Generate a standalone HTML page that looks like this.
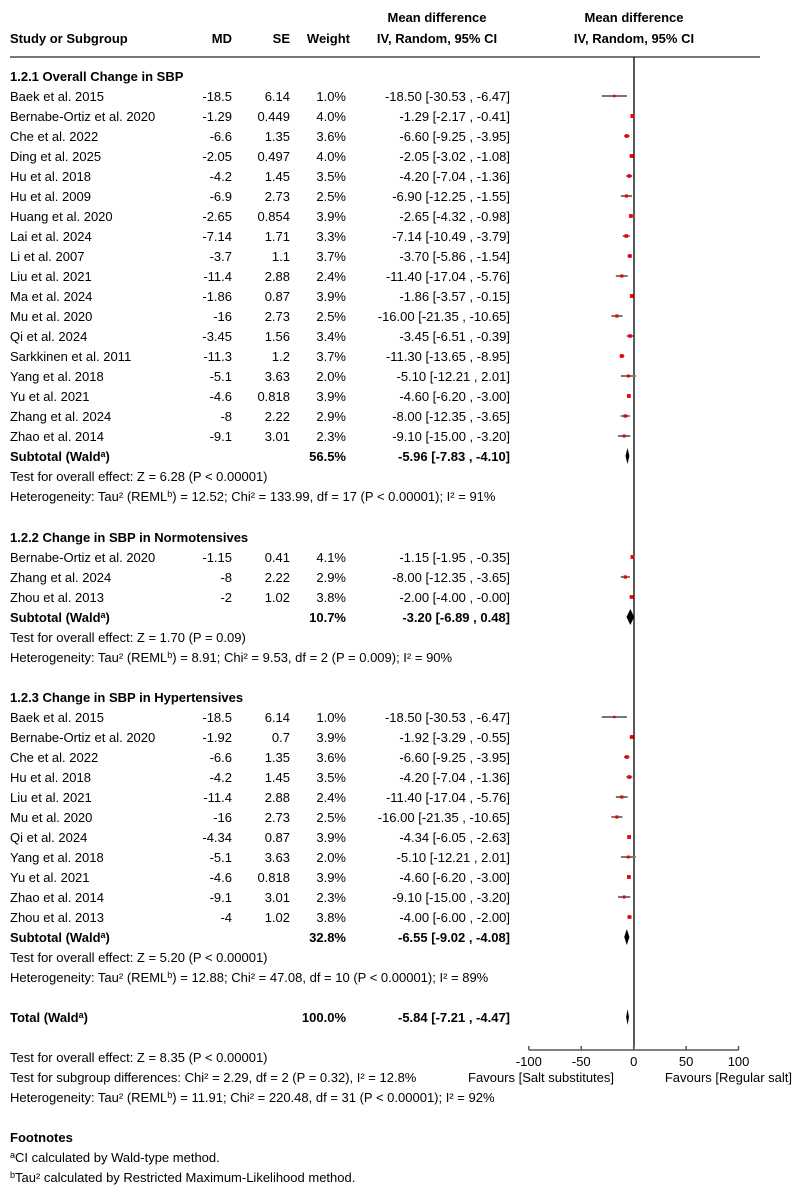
<!DOCTYPE html>
<html><head><meta charset="utf-8"><style>
html,body{margin:0;padding:0;background:#fff;}
svg{display:block;font-family:"Liberation Sans",Arial,sans-serif;font-size:13px;}
</style></head><body>
<svg id="c" width="801" height="1200"></svg>
<script>
const studies1=["Baek et al. 2015","Bernabe-Ortiz et al. 2020","Che et al. 2022","Ding et al. 2025","Hu et al.  2018","Hu et al. 2009","Huang et al. 2020","Lai et al. 2024","Li et al. 2007","Liu et al. 2021","Ma et al. 2024","Mu et al. 2020","Qi et al. 2024","Sarkkinen et al. 2011","Yang et al. 2018","Yu et al. 2021","Zhang et al. 2024","Zhao et al. 2014"];
const md1=[-18.5,-1.29,-6.6,-2.05,-4.2,-6.9,-2.65,-7.14,-3.7,-11.4,-1.86,-16,-3.45,-11.3,-5.1,-4.6,-8,-9.1];
const se1=["6.14","0.449","1.35","0.497","1.45","2.73","0.854","1.71","1.1","2.88","0.87","2.73","1.56","1.2","3.63","0.818","2.22","3.01"];
const w1=[1.0,4.0,3.6,4.0,3.5,2.5,3.9,3.3,3.7,2.4,3.9,2.5,3.4,3.7,2.0,3.9,2.9,2.3];
const lo1=[-30.53,-2.17,-9.25,-3.02,-7.04,-12.25,-4.32,-10.49,-5.86,-17.04,-3.57,-21.35,-6.51,-13.65,-12.21,-6.20,-12.35,-15.00];
const hi1=[-6.47,-0.41,-3.95,-1.08,-1.36,-1.55,-0.98,-3.79,-1.54,-5.76,-0.15,-10.65,-0.39,-8.95,2.01,-3.00,-3.65,-3.20];
const studies2=["Bernabe-Ortiz et al. 2020","Zhang et al. 2024","Zhou et al. 2013"];
const md2=[-1.15,-8,-2];
const se2=["0.41","2.22","1.02"];
const w2=[4.1,2.9,3.8];
const lo2=[-1.95,-12.35,-4.00];
const hi2=[-0.35,-3.65,-0.00];
const studies3=["Baek et al. 2015","Bernabe-Ortiz et al. 2020","Che et al. 2022","Hu et al.  2018","Liu et al. 2021","Mu et al. 2020","Qi et al. 2024","Yang et al. 2018","Yu et al. 2021","Zhao et al. 2014","Zhou et al. 2013"];
const md3=[-18.5,-1.92,-6.6,-4.2,-11.4,-16,-4.34,-5.1,-4.6,-9.1,-4];
const se3=["6.14","0.7","1.35","1.45","2.88","2.73","0.87","3.63","0.818","3.01","1.02"];
const w3=[1.0,3.9,3.6,3.5,2.4,2.5,3.9,2.0,3.9,2.3,3.8];
const lo3=[-30.53,-3.29,-9.25,-7.04,-17.04,-21.35,-6.05,-12.21,-6.20,-15.00,-6.00];
const hi3=[-6.47,-0.55,-3.95,-1.36,-5.76,-10.65,-2.63,2.01,-3.00,-3.20,-2.00];
const subMd=[-5.96,-3.20,-6.55];
const subLo=[-7.83,-6.89,-9.02];
const subHi=[-4.10,0.48,-4.08];
const subW=["56.5%","10.7%","32.8%"];
const totMd=-5.84,totLo=-7.21,totHi=-4.47;
const ticks=[-100,-50,0,50,100];

const svg=document.getElementById('c');
const NS='http://www.w3.org/2000/svg';
const X=v=>633.7+v*1.0485;
function el(tag,attrs,name,txt){const e=document.createElementNS(NS,tag);for(const k in attrs)e.setAttribute(k,attrs[k]);


if(txt!==undefined)e.textContent=txt;svg.appendChild(e);return e;}
function T(x,y,s,name,opt={}){const a={x:x,y:y+5,fill:'#000'};if(opt.b)a['font-weight']='bold';if(opt.a)a['text-anchor']=opt.a;const t=el('text',a,name);
if(opt.sup){t.appendChild(document.createTextNode(s));const p=document.createElementNS(NS,'tspan');p.setAttribute('font-size','9');p.setAttribute('dy','-4');p.textContent=opt.sup;t.appendChild(p);const q=document.createElementNS(NS,'tspan');q.setAttribute('dy','4');q.textContent=opt.after||'';t.appendChild(q);}else t.textContent=s;return t;}
const f2=v=>(Object.is(v,-0)||(v<0&&v>-0.005))?'-0.00':v.toFixed(2);
T(437,17,"Mean difference","header-md-title",{b:1,a:'middle'});
T(437,38,"IV, Random, 95% CI","header-md-method",{b:1,a:'middle'});
T(634,17,"Mean difference","header-plot-title",{b:1,a:'middle'});
T(634,38,"IV, Random, 95% CI","header-plot-method",{b:1,a:'middle'});
T(10,38,"Study or Subgroup","header-study",{b:1});
T(232,38,"MD","header-md",{b:1,a:'end'});
T(290,38,"SE","header-se",{b:1,a:'end'});
T(350,38,"Weight","header-weight",{b:1,a:'end'});
el('line',{x1:10,y1:57,x2:760,y2:57,stroke:'#777','stroke-width':2},'header-rule');
el('line',{x1:634,y1:57,x2:634,y2:1050,stroke:'#000','stroke-width':1.3},'zero-line');
function diamond(y,lo,hi,name){const h=8;el('polygon',{points:`${X(lo)},${y} ${X((lo+hi)/2)},${y-h} ${X(hi)},${y} ${X((lo+hi)/2)},${y+h}`,fill:'#000'},name);}
function group(title,ty,st,md,se,w,lo,hi,gi,sub,test,het){
 T(10,ty,title,'subgroup-title',{b:1});
 st.forEach((s,i)=>{const y=ty+20*(i+1);
  T(10,y,s,'study-name');T(232,y,String(md[i]),'study-md',{a:'end'});T(290,y,se[i],'study-se',{a:'end'});
  T(346,y,w[i].toFixed(1)+'%','study-weight',{a:'end'});
  T(510,y,`${f2(md[i])} [${f2(lo[i])} , ${f2(hi[i])}]`,'study-ci',{a:'end'});
  el('line',{x1:X(lo[i]),y1:y,x2:X(hi[i]),y2:y,stroke:'#777','stroke-width':2},'ci-line');
  const sz=2+w[i]*0.45;el('rect',{x:X(md[i])-sz/2,y:y-sz/2,width:sz,height:sz,fill:'#e00'},'study-point');
 });
 const y=ty+20*(st.length+1);
 T(10,y,'Subtotal (Wald','subtotal-label',{b:1,sup:'a',after:')'});
 T(346,y,subW[gi],'subtotal-weight',{b:1,a:'end'});
 T(510,y,`${f2(subMd[gi])} [${f2(subLo[gi])} , ${f2(subHi[gi])}]`,'subtotal-ci',{b:1,a:'end'});
 diamond(y,subLo[gi],subHi[gi],'subtotal-diamond');
 T(10,y+20,test,'overall-effect-test');
 T(10,y+40,'Heterogeneity: Tau² (REML','heterogeneity',{sup:'b',after:het});
}
group("1.2.1 Overall Change in SBP",76,studies1,md1,se1,w1,lo1,hi1,0,null,"Test for overall effect: Z = 6.28 (P < 0.00001)",") = 12.52; Chi² = 133.99, df = 17 (P < 0.00001); I² = 91%");
group("1.2.2 Change in SBP in Normotensives",537,studies2,md2,se2,w2,lo2,hi2,1,null,"Test for overall effect: Z = 1.70 (P = 0.09)",") = 8.91; Chi² = 9.53, df = 2 (P = 0.009); I² = 90%");
group("1.2.3 Change in SBP in Hypertensives",697,studies3,md3,se3,w3,lo3,hi3,2,null,"Test for overall effect: Z = 5.20 (P < 0.00001)",") = 12.88; Chi² = 47.08, df = 10 (P < 0.00001); I² = 89%");
T(10,1017,'Total (Wald','total-label',{b:1,sup:'a',after:')'});
T(346,1017,'100.0%','total-weight',{b:1,a:'end'});
T(510,1017,`${f2(totMd)} [${f2(totLo)} , ${f2(totHi)}]`,'total-ci',{b:1,a:'end'});
diamond(1017,totLo,totHi,'total-diamond');
el('line',{x1:X(-100),y1:1050,x2:X(100),y2:1050,stroke:'#555','stroke-width':1.5},'x-axis');
ticks.forEach(t=>{el('line',{x1:X(t),y1:1046,x2:X(t),y2:1050,stroke:'#555','stroke-width':1.5},'x-tick');T(X(t),1061,String(t),'x-tick-label',{a:'middle'});});
T(614,1077,'Favours [Salt substitutes]','favours-left',{a:'end'});
T(792,1077,'Favours [Regular salt]','favours-right',{a:'end'});
T(10,1057,'Test for overall effect: Z = 8.35 (P < 0.00001)','total-effect-test');
T(10,1077,'Test for subgroup differences: Chi² = 2.29, df = 2 (P = 0.32), I² = 12.8%','subgroup-differences-test');
T(10,1097,'Heterogeneity: Tau² (REML','total-heterogeneity',{sup:'b',after:') = 11.91; Chi² = 220.48, df = 31 (P < 0.00001); I² = 92%'});
T(10,1137,'Footnotes','footnotes-title',{b:1});
const fa=T(10,1157,'','footnote-a');fa.innerHTML='<tspan font-size="9" dy="-4">a</tspan><tspan dy="4">CI calculated by Wald-type method.</tspan>';
const fb=T(10,1177,'','footnote-b');fb.innerHTML='<tspan font-size="9" dy="-4">b</tspan><tspan dy="4">Tau² calculated by Restricted Maximum-Likelihood method.</tspan>';
</script>
</body></html>
